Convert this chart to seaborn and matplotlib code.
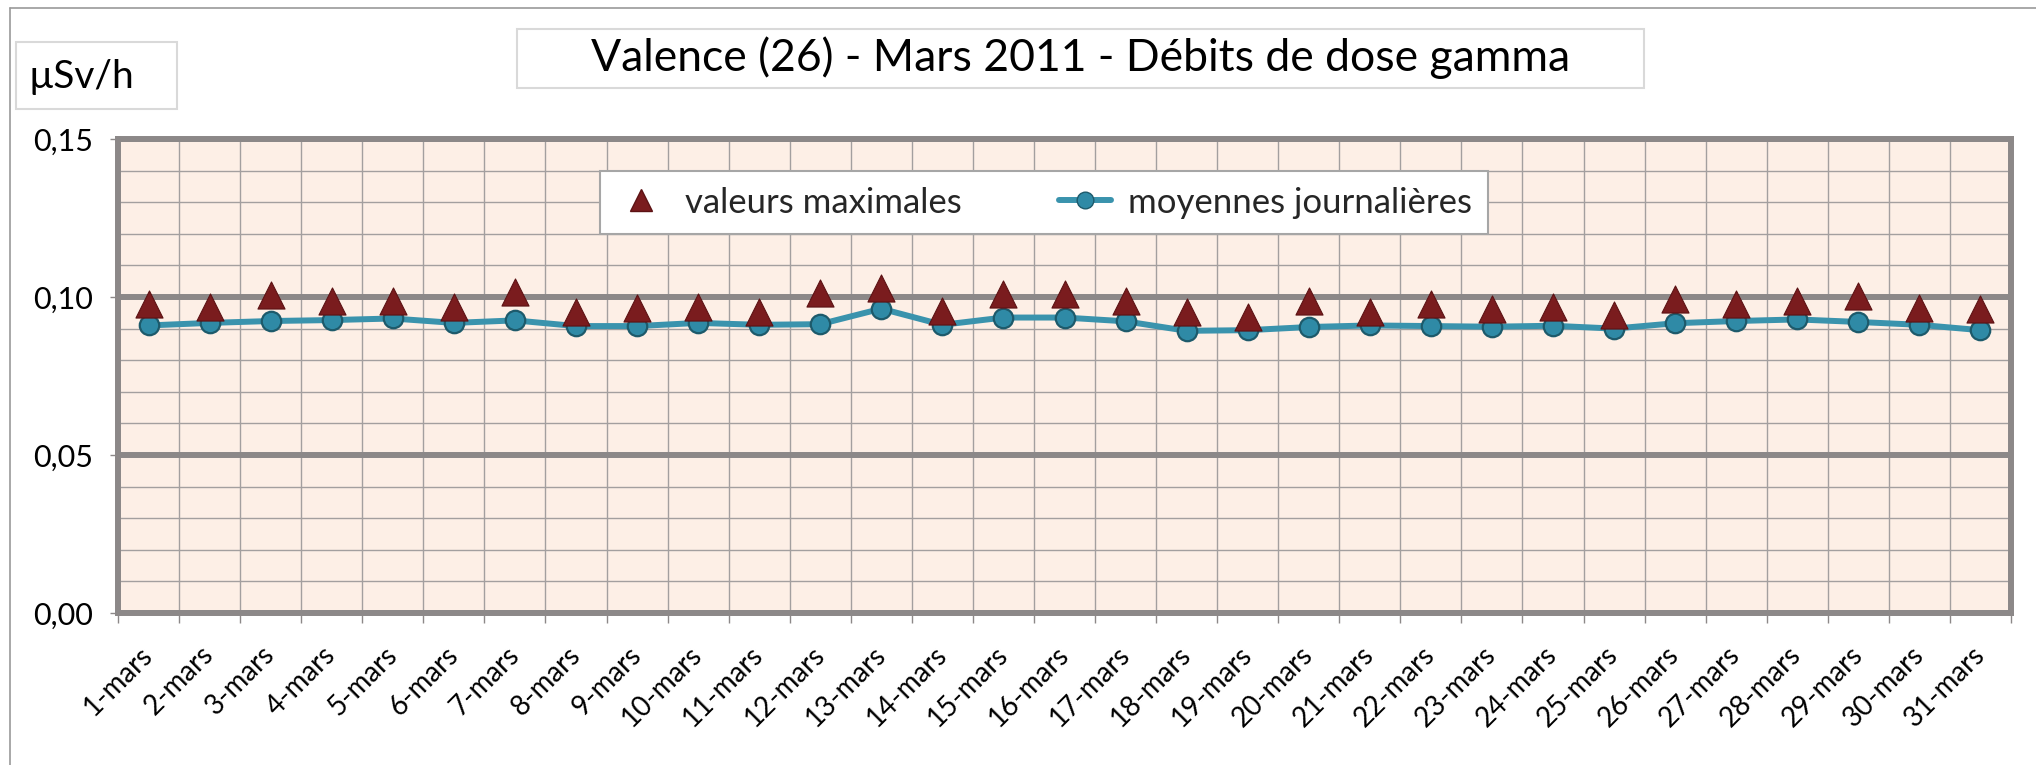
import numpy as np
import pandas as pd
import matplotlib
matplotlib.use("Agg")
import matplotlib.pyplot as plt
import seaborn as sns
from matplotlib.patches import Rectangle
from matplotlib.lines import Line2D
from matplotlib.ticker import FuncFormatter, MultipleLocator

days = ["1-mars", "2-mars", "3-mars", "4-mars", "5-mars", "6-mars", "7-mars",
        "8-mars", "9-mars", "10-mars", "11-mars", "12-mars", "13-mars", "14-mars",
        "15-mars", "16-mars", "17-mars", "18-mars", "19-mars", "20-mars", "21-mars",
        "22-mars", "23-mars", "24-mars", "25-mars", "26-mars", "27-mars", "28-mars",
        "29-mars", "30-mars", "31-mars"]

valeurs_max = [0.0978, 0.0968, 0.1006, 0.0986, 0.0986, 0.0968, 0.1016,
               0.0954, 0.0964, 0.0968, 0.0953, 0.1012, 0.1029, 0.0955,
               0.1008, 0.1008, 0.0986, 0.0951, 0.0936, 0.0986, 0.0951,
               0.0978, 0.0962, 0.0968, 0.0944, 0.0995, 0.0977, 0.0986,
               0.1002, 0.0965, 0.0962]

moyennes = [0.0910, 0.0918, 0.0924, 0.0927, 0.0932, 0.0918, 0.0926,
            0.0908, 0.0908, 0.0918, 0.0912, 0.0914, 0.0963, 0.0912,
            0.0935, 0.0935, 0.0923, 0.0893, 0.0895, 0.0905, 0.0910,
            0.0908, 0.0906, 0.0909, 0.0900, 0.0917, 0.0924, 0.0929,
            0.0921, 0.0912, 0.0895]

y_ticks = [0.00, 0.05, 0.10, 0.15]
title = "Valence (26) - Mars 2011 - Débits de dose gamma"
unit = "µSv/h"
label_max = "valeurs maximales"
label_moy = "moyennes journalières"

sns.set_theme(style="white")
plt.rcParams["font.family"] = ["Lato", "DejaVu Sans"]

W, H = 2036, 765
fig = plt.figure(figsize=(W / 100, H / 100), dpi=100)
fig.patch.set_facecolor("white")

L, R, T, B = 118, 2011, 139, 613
ax = fig.add_axes([L / W, 1 - B / H, (R - L) / W, (B - T) / H])
ax.set_facecolor("#FDEFE6")

df = pd.DataFrame({"pos": np.arange(len(days)), "jour": days,
                   "max": valeurs_max, "moy": moyennes})

teal_line = "#3A93AD"
teal_fill = "#2F8AA6"
teal_edge = "#1D5A6B"
red = "#7A1C1E"

sns.lineplot(data=df, x="pos", y="moy", ax=ax, color=teal_line, linewidth=4.3,
             marker="o", markersize=14, markerfacecolor=teal_fill,
             markeredgecolor=teal_edge, markeredgewidth=1.6, legend=False, zorder=3)
sns.scatterplot(data=df, x="pos", y="max", ax=ax, marker="^", s=380, color=red,
                edgecolor="#5C1214", linewidth=0.8, legend=False, zorder=4)

ax.set_xlim(-0.5, len(days) - 0.5)
ax.set_ylim(0, 0.15)
ax.set_xlabel("")
ax.set_ylabel("")

grid_major = "#8C8888"
grid_minor = "#A39F9F"

ax.set_yticks(y_ticks)
ax.yaxis.set_minor_locator(MultipleLocator(0.01))
ax.yaxis.set_major_formatter(FuncFormatter(lambda v, p: f"{v:.2f}".replace(".", ",")))
ax.set_xticks(np.arange(len(days)))
ax.set_xticklabels(days, rotation=45, ha="right", va="center", rotation_mode="anchor")
ax.set_xticks(np.arange(-0.5, len(days), 1.0), minor=True)

ax.set_axisbelow(True)
ax.grid(which="major", axis="y", color=grid_major, linewidth=4.3)
ax.grid(which="minor", axis="y", color=grid_minor, linewidth=1.0)
ax.grid(which="minor", axis="x", color=grid_minor, linewidth=1.0)
ax.grid(which="major", axis="x", visible=False)

ax.tick_params(axis="y", which="major", left=True, length=6, width=1, color=grid_major,
               labelsize=22, pad=12, labelcolor="black")
ax.tick_params(axis="y", which="minor", left=False)
ax.tick_params(axis="x", which="major", bottom=False, length=0, labelsize=20, pad=27,
               labelcolor="black")
ax.tick_params(axis="x", which="minor", bottom=True, length=7, width=1, color=grid_major)

for s in ax.spines.values():
    s.set_color(grid_major)
    s.set_linewidth(4.3)

h_max = Line2D([], [], marker="^", linestyle="none", markersize=16, color=red,
               markeredgecolor="#5C1214")
h_moy = Line2D([], [], color=teal_line, linewidth=4.3, marker="o", markersize=12,
               markerfacecolor=teal_fill, markeredgecolor=teal_edge)
leg = ax.legend([h_max, h_moy], [label_max, label_moy], ncol=2, loc="center",
                bbox_to_anchor=(0.489, 0.866), frameon=True, fancybox=False,
                fontsize=25, handlelength=1.5, columnspacing=2.8, borderpad=0.45,
                handletextpad=0.5)
leg.get_frame().set_facecolor("white")
leg.get_frame().set_edgecolor("#A6A6A6")
leg.get_frame().set_linewidth(1.5)
leg.get_frame().set_alpha(1)

# title box
fig.patches.append(Rectangle((517 / W, 1 - 88 / H), (1644 - 517) / W, 59 / H,
                             transform=fig.transFigure, facecolor="white",
                             edgecolor="#D9D9D9", linewidth=1.5, zorder=1))
fig.text((517 + 1644) / 2 / W, 1 - 58 / H, title, ha="center", va="center",
         fontsize=32, color="black", zorder=2)

# unit box
fig.patches.append(Rectangle((16 / W, 1 - 109 / H), (177 - 16) / W, 67 / H,
                             transform=fig.transFigure, facecolor="white",
                             edgecolor="#D9D9D9", linewidth=1.5, zorder=1))
fig.text(28 / W, 1 - 77 / H, unit, ha="left", va="center", fontsize=28,
         color="black", zorder=2)

# chart-area border (left and top)
fig.add_artist(Line2D([10 / W, 10 / W], [0, 1 - 8 / H], transform=fig.transFigure,
                      color="#9A9A9A", linewidth=1.2))
fig.add_artist(Line2D([10 / W, 1], [1 - 8 / H, 1 - 8 / H], transform=fig.transFigure,
                      color="#9A9A9A", linewidth=1.2))

fig.savefig("out.png", dpi=100, facecolor="white")
